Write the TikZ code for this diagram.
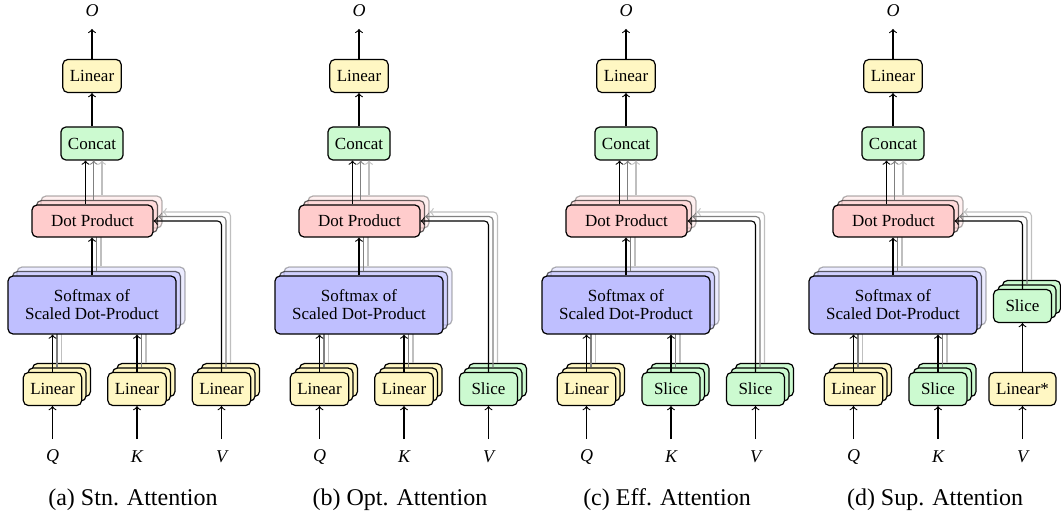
\documentclass[tikz,border=0pt]{standalone}
\usepackage{fontspec}
\setmainfont{Liberation Serif}
\usetikzlibrary{calc}
\definecolor{linfill}{RGB}{255,247,195}
\definecolor{catfill}{RGB}{204,250,208}
\definecolor{dpfill}{RGB}{255,204,204}
\definecolor{smfill}{RGB}{191,191,255}
\tikzset{
  box/.style={draw=black, line width=0.6pt, rounded corners=2.5pt, font=\fontsize{8.5}{9}\selectfont, align=center, inner sep=0pt},
  small/.style={box, minimum width=29pt, minimum height=16.5pt, inner xsep=3.5pt},
  linbox/.style={small, fill=linfill},
  slibox/.style={small, fill=catfill},
  catbox/.style={small, fill=catfill},
  dpbox/.style={box, fill=dpfill, minimum width=60.5pt, minimum height=16pt},
  smbox/.style={box, fill=smfill, minimum width=84pt, minimum height=29pt},
  lab/.style={font=\fontsize{9}{10}\selectfont\itshape, minimum height=17.5pt, inner sep=0pt},
  captxt/.style={font=\fontsize{12}{14}\selectfont},
  conn/.style={line width=0.55pt, ->},
}
% #1 prefix, #2 x offset, #3 K style, #4 K text, #5 V style, #6 V text, #7 V stack y
\newcommand\attpanel[7]{%
 \begin{scope}[shift={(#2,0)}]
  \node[lab] (#1O) at (92,11) {O};
  \node[linbox] (#1Lin) at (92,76) {Linear};
  \node[catbox] (#1Cat) at (92,143.5) {Concat};
  \draw[conn] (#1Lin) -- (#1O);
  \draw[conn] (#1Cat) -- (#1Lin);
  \node[lab] (#1Ql) at (52.5,457) {Q};
  \node[lab] (#1Kl) at (137,457) {K};
  \node[lab] (#1Vl) at (221.5,457) {V};
  \foreach \k/\c/\op in {2/black!25/0.3,1/black!50/0.6,0/black/1}{
    \pgfmathsetmacro\s{4.5*\k}
    \pgfmathsetmacro\dxu{-7+8.25*\k-\s}
    \node[linbox] (#1Q\k) at (52.5+\s,389-\s) {\ifnum\k=0 Linear\fi};
    \node[#3] (#1K\k) at (137+\s,389-\s) {\ifnum\k=0 #4\fi};
    \node[#5] (#1V\k) at (221.5+\s,#7-\s) {\ifnum\k=0 #6\fi};
    \node[smbox,opacity=\op] (#1SM\k) at (92+\s,305-\s) {\ifnum\k=0 Softmax of\\Scaled Dot-Product\fi};
    \node[dpbox,opacity=\op] (#1DP\k) at (92.5+\s,221-\s) {\ifnum\k=0 Dot Product\fi};
    \coordinate (#1D\k) at ($(#1DP\k.north)+(\dxu,0)$);
    \draw[conn,draw=\c] (#1Q\k.north) -- (#1Q\k.north |- #1SM\k.south);
    \draw[conn,draw=\c] (#1K\k.north) -- (#1K\k.north |- #1SM\k.south);
    \draw[conn,draw=\c] (#1SM\k.north) -- (#1SM\k.north |- #1DP\k.south);
    \draw[conn,draw=\c] (#1D\k) -- (#1D\k |- #1Cat.south);
    \draw[conn,draw=\c,rounded corners=2pt] (#1V\k.north) |- (#1DP\k.east);
  }
  \draw[conn] (#1Ql) -- (#1Q0);
  \draw[conn] (#1Kl) -- (#1K0);
 \end{scope}}
\begin{document}
\begin{tikzpicture}[x=0.5pt,y=-0.5pt]
\useasboundingbox (0,0) rectangle (1061,519);
\attpanel{a}{0}{linbox}{Linear}{linbox}{Linear}{389}
\draw[conn] (aVl) -- (aV0);
\attpanel{b}{267}{linbox}{Linear}{slibox}{Slice}{389}
\draw[conn] (bVl) -- (bV0);
\attpanel{c}{534}{slibox}{Slice}{slibox}{Slice}{389}
\draw[conn] (cVl) -- (cV0);
\attpanel{d}{801}{slibox}{Slice}{slibox}{Slice}{306}
\node[linbox] (dLinS) at (1022.5,389) {Linear*};
\draw[conn] (dVl) -- (dLinS);
\draw[conn] (dLinS) -- (dV0);
\node[captxt] (capa) at (133,500) {(a) Stn. Attention};
\node[captxt] (capb) at (400,500) {(b) Opt. Attention};
\node[captxt] (capc) at (667,500) {(c) Eff. Attention};
\node[captxt] (capd) at (935,500) {(d) Sup. Attention};
\end{tikzpicture}
\end{document}
